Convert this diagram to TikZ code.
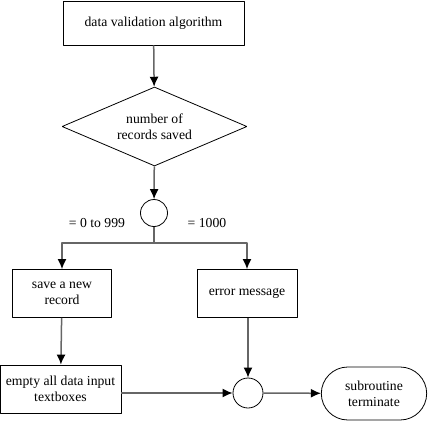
\documentclass[tikz,border=0pt]{standalone}
\usepackage{fontspec}
\setmainfont{Liberation Serif}
\usetikzlibrary{shapes.geometric,shapes.misc,arrows.meta}
\begin{document}
\begin{tikzpicture}[>=latex,line join=bevel,x=1bp,y=-1bp,
  every node/.style={font=\fontsize{13.7bp}{16bp}\selectfont, align=center},
  proc/.style={rectangle, draw=black, line width=0.8bp, minimum height=48bp},
  test/.style={diamond, draw=black, line width=0.8bp, aspect=2.34, inner sep=0bp, minimum width=185bp, minimum height=79bp},
  junc/.style={circle, draw=black, line width=0.8bp},
  term/.style={rounded rectangle, draw=black, line width=0.8bp},
  flow/.style={draw=black!60, line width=1.5bp, -{Latex[black,length=10bp,width=9bp]}}]
  \useasboundingbox (0,0) rectangle (430,422);
%%
  % Node: algo
  \node (algo) at (153.5,23) [proc, minimum width=181bp, minimum height=44bp] {data validation algorithm};
  % Node: count
  \node (count) at (154.5,126.5) [test] {number of\\records saved};
  % Node: split
  \node (split) at (154,213) [junc, minimum size=27bp] {};
  \coordinate (fork) at (154,243);
  \node (left) at (97,223) {= 0 to 999};
  \node (right) at (207,223) {= 1000};
  % Node: save
  \node (save) at (62,293.5) [proc, minimum width=99bp] {save a new\\record};
  % Node: error
  \node (error) at (247,293.5) [proc, minimum width=100bp] {error message};
  % Node: empty
  \node (empty) at (60.5,389) [proc, minimum width=121bp, inner sep=1bp] {empty all data input\\textboxes};
  % Node: join
  \node (join) at (248,393) [junc, minimum size=30bp] {};
  % Node: stop
  \node (stop) at (374,393.5) [term, minimum width=112bp, minimum height=53bp] {subroutine\\terminate};
  % Edge: algo -- count
  \draw [flow] (algo) -- (count);
  % Edge: count -- split
  \draw [flow] (count) -- (split);
  % Edge: split -- save
  \draw [flow] (split) -- (fork) -| (save);
  % Edge: split -- error
  \draw [flow] (fork) -| (error);
  % Edge: save -- empty
  \draw [flow] (save) -- (empty);
  % Edge: error -- join
  \draw [flow] (error.south -| join) -- (join);
  % Edge: empty -- join
  \draw [flow] (empty.east |- join) -- (join);
  % Edge: join -- stop
  \draw [flow] (join) -- (stop);
%
\end{tikzpicture}
\end{document}
